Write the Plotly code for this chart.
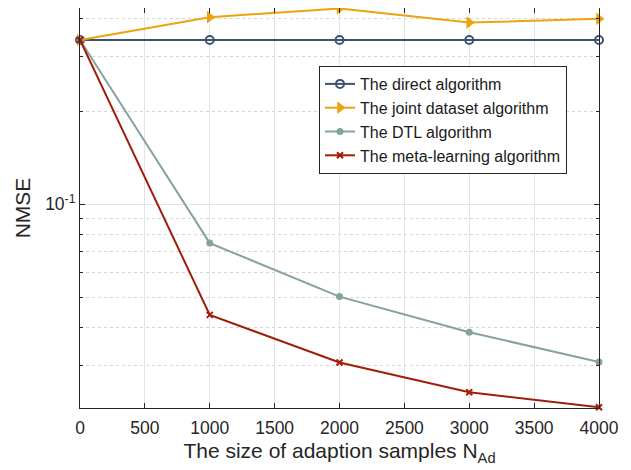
import plotly.graph_objects as go

samples = [0, 1000, 2000, 3000, 4000]
direct = [0.340, 0.340, 0.340, 0.340, 0.340]
joint = [0.340, 0.403, 0.430, 0.387, 0.398]
dtl = [0.340, 0.0748, 0.0502, 0.0385, 0.0308]
meta = [0.340, 0.0438, 0.0307, 0.0246, 0.0220]

names = ["The direct algorithm", "The joint dataset algorithm",
         "The DTL algorithm", "The meta-learning algorithm"]
series = [direct, joint, dtl, meta]
colors = ["#3d5170", "#eda30d", "#87a29e", "#a01e08"]
markers = [dict(symbol="circle-open", size=8, line=dict(width=2)),
           dict(symbol="triangle-right", size=11),
           dict(symbol="circle", size=7),
           dict(symbol="x-thin-open", size=6, line=dict(width=2))]

fig = go.Figure()
for n, s, c, m in zip(names, series, colors, markers):
    mk = dict(m)
    mk["color"] = c
    if "line" in mk:
        mk["line"] = dict(mk["line"], color=c)
    fig.add_trace(go.Scatter(x=samples, y=s, name=n, mode="lines+markers",
                             line=dict(color=c, width=2), marker=mk,
                             cliponaxis=False))

font = "Liberation Sans, Arial, Helvetica, sans-serif"
minor_vals = [0.02, 0.03, 0.04, 0.05, 0.06, 0.07, 0.08, 0.09, 0.2, 0.3, 0.4]

fig.update_layout(
    width=623, height=462,
    margin=dict(l=72, r=32, t=0, b=62),
    paper_bgcolor="white", plot_bgcolor="white",
    font=dict(family=font, size=17, color="#262626"),
    showlegend=True,
    legend=dict(x=0.4605, y=0.855, xanchor="left", yanchor="top",
                bgcolor="white", bordercolor="#262626", borderwidth=1,
                font=dict(size=16, color="#1a1a1a"), tracegroupgap=0,
                itemwidth=30),
    xaxis=dict(range=[0, 4000], tickvals=[0, 500, 1000, 1500, 2000, 2500, 3000, 3500, 4000],
               showgrid=True, gridcolor="#e3e3e3", gridwidth=1,
               zeroline=False, showline=True, linecolor="#262626", linewidth=1,
               mirror="ticks", ticks="inside", ticklen=5, tickcolor="#262626",
               tickfont=dict(size=17.5), ticklabelstandoff=4,
               title=dict(text="The size of adaption samples N<sub>Ad</sub>",
                          font=dict(size=21), standoff=6)),
    yaxis=dict(type="log", range=[-1.66, -0.365],
               tickvals=[0.1], ticktext=["10<sup>-1</sup>"],
               showgrid=True, gridcolor="#e3e3e3", gridwidth=1,
               zeroline=False, showline=True, linecolor="#262626", linewidth=1,
               mirror="ticks", ticks="inside", ticklen=5, tickcolor="#262626",
               tickfont=dict(size=17.5),
               minor=dict(tickvals=minor_vals, showgrid=True, gridcolor="#d6d6d6",
                          griddash="dot", ticks="inside", ticklen=3, tickcolor="#262626"),
               title=dict(text="NMSE", font=dict(size=21), standoff=8)),
)

fig.write_html("out.html")
